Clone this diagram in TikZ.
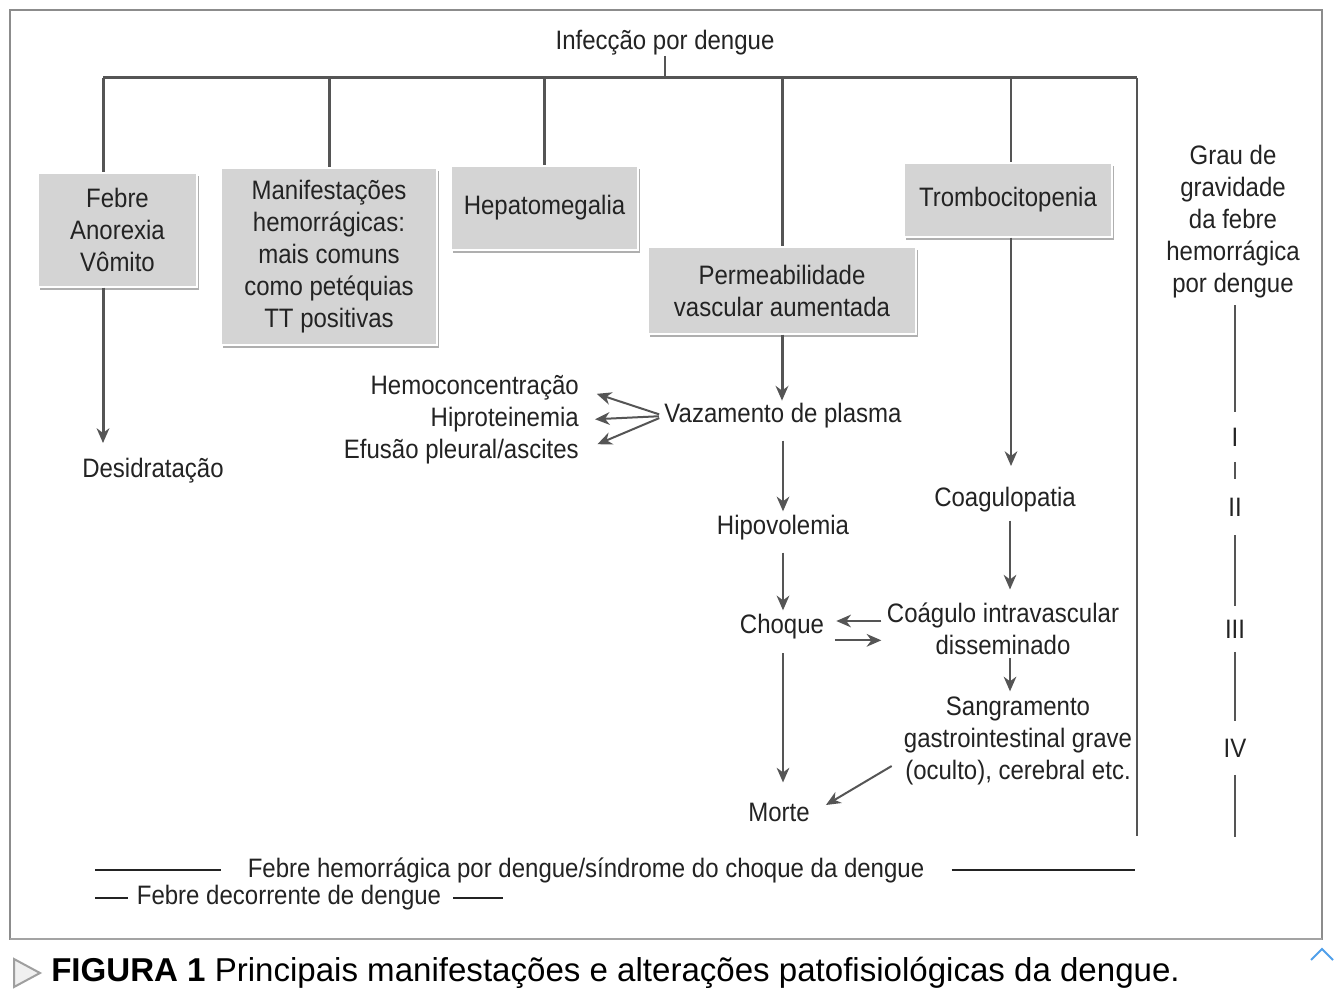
\documentclass[tikz,border=0pt]{standalone}
\usepackage{fontspec}
\setmainfont{Liberation Sans}
\newfontfamily\narrowf[FakeStretch=0.9]{Liberation Sans}
\usetikzlibrary{arrows.meta,calc,shadows}
\definecolor{boxgray}{RGB}{212,212,212}
\definecolor{shadowgray}{RGB}{175,175,175}
\definecolor{linegray}{RGB}{85,85,85}
\definecolor{txt}{RGB}{35,35,35}
\definecolor{framegray}{RGB}{140,140,140}
\definecolor{chev}{RGB}{80,160,235}
\begin{document}
\begin{tikzpicture}[x=0.75pt,y=-0.75pt,
  lbl/.style={font=\narrowf\fontsize{20}{24}\selectfont, text=txt, inner sep=0pt, align=center},
  box/.style={lbl, fill=boxgray, draw=white, line width=0.8pt,
    drop shadow={opacity=1, fill=shadowgray, shadow xshift=1.8pt, shadow yshift=-2.2pt}},
  trunk/.style={draw=linegray, line width=2.25pt},
  thinln/.style={draw=linegray, line width=1.5pt},
  arrtip/.style={-{Stealth[length=11pt,width=9.5pt,inset=3.5pt]}},
  arr/.style={thinln, arrtip},
  arrb/.style={trunk, arrtip},
  numl/.style={lbl, minimum height=37pt},
  legl/.style={draw=txt, line width=1.2pt}]
\useasboundingbox (0,0) rectangle (1334,1006);
\fill[white] (0,0) rectangle (1334,1006);
\draw[framegray, line width=1.5pt] (10,10) rectangle (1322,939);
\draw[framegray!80, line width=2.2pt] (10,939) -- (1322,939);

% title and trunk
\node[lbl] (title) at (665,43) {Infecção por dengue};
\coordinate (hl) at (103,78);
\coordinate (hr) at (1137,78);
\coordinate (rb) at (1137,836);
\draw[thinln] (title.south) -- (title.south |- hl);
\draw[trunk] (hl) -- (hr);
\draw[thinln] (hr) -- (rb);

% boxes
\node[box, minimum width={159*0.75pt}, minimum height={114*0.75pt}] (febre) at (117.5,230) {Febre\\Anorexia\\Vômito};
\node[box, minimum width={216*0.75pt}, minimum height={177*0.75pt}] (manif) at (329,256.5) {Manifestações\\hemorrágicas:\\mais comuns\\como petéquias\\TT positivas};
\node[box, minimum width={187*0.75pt}, minimum height={84*0.75pt}] (hepato) at (544.5,208) {Hepatomegalia};
\node[box, minimum width={268*0.75pt}, minimum height={87*0.75pt}] (perm) at (782,290.5) {Permeabilidade\\vascular aumentada};
\node[box, minimum width={208*0.75pt}, minimum height={74*0.75pt}] (trombo) at (1008,200) {Trombocitopenia};

\draw[trunk] (hl) -- (hl |- febre.north);
\draw[trunk] (manif.north |- hl) -- (manif.north);
\draw[trunk] (hepato.north |- hl) -- (hepato.north);
\draw[trunk] (perm.north |- hl) -- (perm.north);
\draw[thinln] ([xshift=2.25pt]trombo.north |- hl) -- ([xshift=2.25pt]trombo.north);

% texts
\node[lbl] (des) at (153,471) {Desidratação};
\node[lbl, anchor=east] (hemo) at (579,388) {Hemoconcentração};
\node[lbl, anchor=east] (hipro) at (579,420) {Hiproteinemia};
\node[lbl, anchor=east] (efu) at (579,452) {Efusão pleural/ascites};
\node[lbl] (vaz) at (783,416) {Vazamento de plasma};
\node[lbl] (hipo) at (783,528) {Hipovolemia};
\node[lbl] (choque) at (782,627) {Choque};
\node[lbl] (morte) at (779,812) {Morte};
\node[lbl] (coagp) at (1005,500) {Coagulopatia};
\node[lbl] (civd) at (1003,629) {Coágulo intravascular\\disseminado};
\node[lbl] (sang) at (1018,741) {Sangramento\\gastrointestinal grave\\(oculto), cerebral etc.};

% arrows
\draw[arrb] (hl |- febre.south) -- (103,443) coordinate (desarr);
\draw[arrb, shorten >=2pt] (perm.south) -- (perm.south |- vaz.north);
\draw[arr, shorten <=4pt, shorten >=14pt] (vaz.west) -- (hemo.east);
\draw[arr, shorten <=4pt, shorten >=12pt] (vaz.west) -- (hipro.east);
\draw[arr, shorten <=4pt, shorten >=15pt] (vaz.west) -- (efu.east);
\draw[arr, shorten <=9pt, shorten >=3pt] (vaz.south -| hipo.north) -- (hipo.north);
\draw[arr, shorten <=9pt, shorten >=3pt] (hipo.south) -- (hipo.south |- choque.north);
\draw[arr, shorten <=10pt, shorten >=15pt] (hipo.south |- choque.south) -- (hipo.south |- morte.north);
\draw[arr, shorten <=4pt, shorten >=9pt] ([yshift=6pt]civd.west) -- ([yshift=6pt]civd.west -| choque.east);
\draw[arr, shorten <=8pt, shorten >=4pt] ([yshift=-8.5pt]civd.west -| choque.east) -- ([yshift=-8.5pt]civd.west);
\draw[arr, shorten >=16pt] ([xshift=2.25pt]trombo.south) -- ([xshift=2.25pt]trombo.south |- coagp.north);
\draw[arr, shorten <=6pt, shorten >=10pt] (coagp.south -| 1010,0) -- (civd.north -| 1010,0);
\draw[arr, shorten <=2pt, shorten >=4pt] (civd.south -| 1010,0) -- (sang.north -| 1010,0);
\draw[arr] ($(sang.west)+(-12,25)$) -- ($(morte.east)+(16,-7)$);

% severity scale
\node[lbl] (grau) at (1233,222) {Grau de\\gravidade\\da febre\\hemorrágica\\por dengue};
\node[numl] (g1) at (1235,437) {I};
\node[numl, minimum height=42pt] (g2) at (1235,507) {II};
\node[numl, minimum height=34pt] (g3) at (1235,629) {III};
\node[numl, minimum height=40pt] (g4) at (1235,748) {IV};
\coordinate (gend) at (1235,837);
\draw[thinln] ([yshift=-5pt]g1.north |- grau.south) -- (g1.north);
\draw[thinln] (g1.south) -- (g2.north);
\draw[thinln] (g2.south) -- (g3.north);
\draw[thinln] (g3.south) -- (g4.north);
\draw[thinln] (g4.south) -- (gend);

% legend
\node[lbl] (fhd) at (586,870) {Febre hemorrágica por dengue/síndrome do choque da dengue};
\node[lbl] (fdd) at (289,898) {Febre decorrente de dengue};
\coordinate (ll1) at (95,870);
\coordinate (lr1) at (1135,870);
\coordinate (ll2) at (95,898);
\coordinate (lr2) at (503,898);
\draw[legl] (ll1) -- ($(fhd.west)+(-27,0)$);
\draw[legl] ($(fhd.east)+(27,0)$) -- (lr1);
\draw[legl] (ll2) -- ($(fdd.west)+(-9,0)$);
\draw[legl] ($(fdd.east)+(12,0)$) -- (lr2);

% caption
\draw[gray!75, line width=1.5pt, fill=gray!12] (14,959) -- (40,973) -- (14,987) -- cycle;
\node[anchor=west, inner sep=0pt, font=\fontsize{24.8}{28}\selectfont] (cap) at (51,973)
  {\textbf{FIGURA 1} Principais manifestações e alterações patofisiológicas da dengue.};
\draw[chev, line width=1.5pt] (1311,960) -- (1322,949) -- (1333,960);
\end{tikzpicture}
\end{document}
